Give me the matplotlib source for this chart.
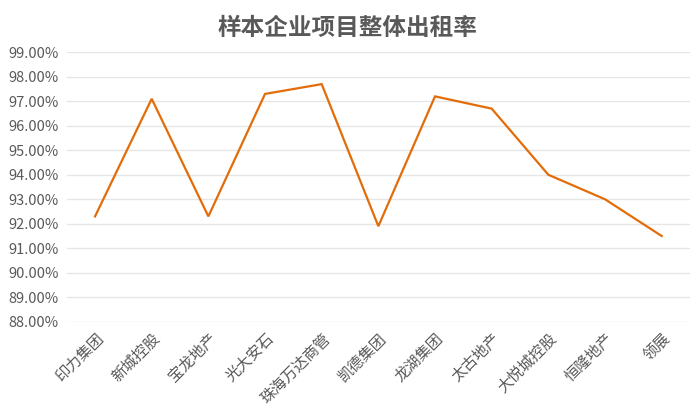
import matplotlib
matplotlib.use("Agg")
import matplotlib.pyplot as plt
from matplotlib.ticker import FuncFormatter, MultipleLocator

plt.rcParams['font.family'] = ['Noto Sans CJK SC', 'DejaVu Sans']

categories = ["印力集团", "新城控股", "宝龙地产", "光大安石", "珠海万达商管", "凯德集团",
              "龙湖集团", "太古地产", "大悦城控股", "恒隆地产", "领展"]
occupancy = [92.3, 97.1, 92.3, 97.3, 97.7, 91.9, 97.2, 96.7, 94.0, 93.0, 91.5]
title = "样本企业项目整体出租率"

text_color = "#595959"

fig = plt.figure(figsize=(7, 4.2), dpi=100)
ax = fig.add_axes([0.0953, 0.234, 0.8904, 0.6415])

x = list(range(len(categories)))
ax.plot(x, occupancy, color="#E36C09", linewidth=1.6, solid_joinstyle="miter")

ax.set_xlim(-0.5, len(categories) - 0.5)
ax.set_ylim(88, 99)
ax.yaxis.set_major_locator(MultipleLocator(1))
ax.yaxis.set_major_formatter(FuncFormatter(lambda v, p: f"{v:.2f}%"))
ax.grid(axis="y", color="#E6E6E6", linewidth=1.0)
ax.set_axisbelow(True)
for s in ax.spines.values():
    s.set_visible(False)

ax.set_xticks(x)
ax.set_xticklabels(categories, rotation=45, ha="right", rotation_mode="anchor",
                   fontsize=11, color=text_color)
ax.tick_params(axis="x", length=0, pad=6)
ax.tick_params(axis="y", length=0, pad=6, labelsize=10.5, labelcolor=text_color)

fig.text(0.497, 0.933, title, ha="center", va="center", fontsize=17,
         fontweight="bold", color=text_color)

fig.savefig("out.png", dpi=100)
